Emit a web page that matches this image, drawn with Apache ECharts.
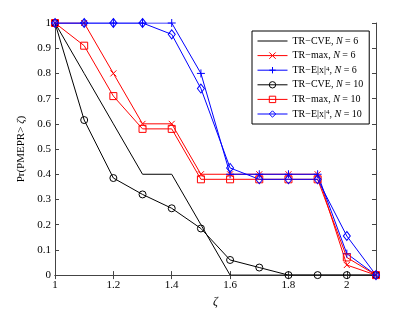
<!DOCTYPE html>
<html><head><meta charset="utf-8">
<script src="https://cdn.jsdelivr.net/npm/echarts@6/dist/echarts.min.js"></script>
<style>html,body{margin:0;padding:0;background:#fff}#c{width:415px;height:313px}</style>
</head><body><div id="c"></div>
<script>
var zeta = [1, 1.1, 1.2, 1.3, 1.4, 1.5, 1.6, 1.7, 1.8, 1.9, 2.0, 2.1];
var cveN6 = [1, 0.8, 0.6, 0.4, 0.4, 0.2, 0, 0, 0, 0, 0, 0];
var maxN6 = [1, 1, 0.8, 0.6, 0.6, 0.4, 0.4, 0.4, 0.4, 0.4, 0.04, 0];
var e4N6 = [1, 1, 1, 1, 1, 0.8, 0.4, 0.4, 0.4, 0.4, 0.085, 0];
var cveN10 = [1, 0.615, 0.385, 0.32, 0.265, 0.185, 0.06, 0.03, 0, 0, 0, 0];
var maxN10 = [1, 0.91, 0.71, 0.58, 0.58, 0.38, 0.38, 0.38, 0.38, 0.38, 0.07, 0];
var e4N10 = [1, 1, 1, 1, 0.955, 0.74, 0.425, 0.38, 0.38, 0.38, 0.155, 0];
var names = ['TR−CVE, {i|N} = 6', 'TR−max, {i|N} = 6', 'TR−E|x|{s|4}, {i|N} = 6',
             'TR−CVE, {i|N} = 10', 'TR−max, {i|N} = 10', 'TR−E|x|{s|4}, {i|N} = 10'];
var xTicks = [1, 1.2, 1.4, 1.6, 1.8, 2];
var yTicks = [0, 0.1, 0.2, 0.3, 0.4, 0.5, 0.6, 0.7, 0.8, 0.9, 1];

function pairs(v){ return zeta.map(function(x,i){return [x, v[i]];}); }
var F = 'Liberation Serif';
var XP = 'path://M0,0L10,10M10,0L0,10';
var PP = 'path://M5,0L5,10M0,5L10,5';
function ser(name, data, color, symbol, size){
  return {
    name: name, type: 'line', data: pairs(data), symbol: symbol || 'none',
    symbolSize: size || 7, showSymbol: !!symbol,
    lineStyle: {color: color, width: 1},
    itemStyle: {color: 'rgba(0,0,0,0)', borderColor: color, borderWidth: 1},
    emphasis: {disabled: true}, animation: false, z: 3
  };
}
var chart = echarts.init(document.getElementById('c'), null, {renderer: 'canvas'});
var axisCommon = {
  axisLine: {show: true, lineStyle: {color: '#444', width: 1}},
  axisTick: {show: true, inside: true, length: 4, lineStyle: {color: '#444'}},
  splitLine: {show: false}
};
var legendData = names.map(function(n, i){
  var d = {name: n};
  if (i === 0) d.itemStyle = {color: 'rgba(0,0,0,0)', borderColor: 'rgba(0,0,0,0)', borderWidth: 0};
  return d;
});
chart.setOption({
  animation: false,
  grid: {left: 55, right: 39, top: 23, bottom: 35, containLabel: false},
  xAxis: [
    Object.assign({type: 'value', min: 1, max: 2.1, interval: 0.2, position: 'bottom',
      name: 'ζ', nameLocation: 'middle', nameGap: 16,
      nameTextStyle: {fontFamily: F, fontStyle: 'italic', fontSize: 12, color: '#000'},
      axisLabel: {fontFamily: F, fontSize: 11, color: '#000', margin: 5, showMaxLabel: false,
        formatter: function(v){ return xTicks.some(function(t){return Math.abs(t-v)<1e-9;}) ? String(+v.toFixed(1)) : ''; }}
    }, axisCommon),
    Object.assign({type: 'value', min: 1, max: 2.1, interval: 0.2, position: 'top',
      axisLabel: {show: false}}, axisCommon)
  ],
  yAxis: [
    Object.assign({type: 'value', min: 0, max: 1, interval: 0.1, position: 'left',
      name: '{a|Pr(PMEPR> }{i|ζ}{a|)}', nameLocation: 'middle', nameGap: 19, nameRotate: 90,
      nameTextStyle: {fontFamily: F, fontSize: 11, color: '#000',
        rich: {a: {fontFamily: F, fontSize: 11, color: '#000'}, i: {fontFamily: F, fontSize: 11, fontStyle: 'italic', color: '#000'}}},
      axisLabel: {fontFamily: F, fontSize: 11, color: '#000', margin: 4,
        formatter: function(v){ return String(+v.toFixed(1)); }}
    }, axisCommon),
    Object.assign({type: 'value', min: 0, max: 1, interval: 0.1, position: 'right',
      axisLabel: {show: false}}, axisCommon)
  ],
  legend: {
    left: 252, top: 31, orient: 'vertical', itemGap: 4.6, itemWidth: 30, itemHeight: 8,
    padding: [5, 6, 5, 5],
    lineStyle: {width: 1},
    itemStyle: {borderWidth: 1},
    backgroundColor: '#fff', borderColor: '#000', borderWidth: 1, borderRadius: 0,
    textStyle: {fontFamily: F, fontSize: 10, color: '#000',
      rich: {i: {fontFamily: F, fontSize: 10, fontStyle: 'italic', color: '#000'},
             s: {fontFamily: F, fontSize: 7, color: '#000', verticalAlign: 'top', lineHeight: 7, padding: [0, 0, 3, 0]}}},
    data: legendData
  },
  series: [
    ser(names[0], cveN6, '#000000', null),
    ser(names[1], maxN6, '#ff0000', XP, 6),
    ser(names[2], e4N6, '#0000ff', PP, 8),
    ser(names[3], cveN10, '#000000', 'circle', 7),
    ser(names[4], maxN10, '#ff0000', 'rect', 7),
    ser(names[5], e4N10, '#0000ff', 'diamond', [7, 9])
  ]
});
</script></body></html>
